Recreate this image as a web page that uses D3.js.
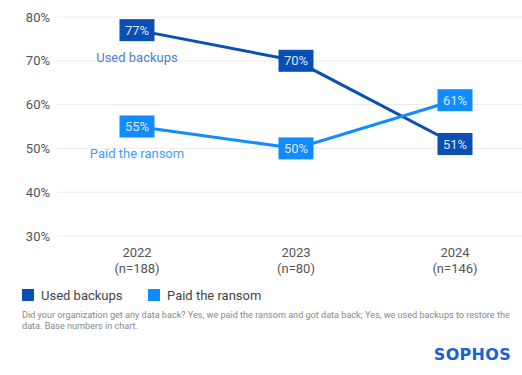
<!DOCTYPE html>
<html>
<head>
<meta charset="utf-8">
<script src="https://cdn.jsdelivr.net/npm/d3@7"></script>
<style>
  body { margin: 0; background: #fff; }
  svg { display: block; font-family: Roboto, "Noto Sans", sans-serif; }
</style>
</head>
<body>
<script>
var years = ['2022', '2023', '2024'];
var bases = ['(n=188)', '(n=80)', '(n=146)'];
var usedBackups = [77, 70, 51];
var paidRansom = [55, 50, 61];
var yTicks = [30, 40, 50, 60, 70, 80];

var width = 522, height = 375;
var darkBlue = '#0a4fb4';
var lightBlue = '#118cff';

var svg = d3.select('body').append('svg')
	.attr('width', width)
	.attr('height', height);

var x = d3.scalePoint()
	.domain(years)
	.range([137, 455]);

var y = d3.scaleLinear()
	.domain([30, 80])
	.range([236, 17]);

// gridlines + y labels
var grid = svg.append('g');
grid.selectAll('line')
	.data(yTicks)
	.enter()
	.append('line')
	.attr('x1', 57)
	.attr('x2', width)
	.attr('y1', function(d) { return y(d); })
	.attr('y2', function(d) { return y(d); })
	.attr('stroke', '#ececec')
	.attr('stroke-width', 1);

grid.selectAll('text')
	.data(yTicks)
	.enter()
	.append('text')
	.attr('x', 50)
	.attr('y', function(d) { return y(d); })
	.attr('dy', '0.35em')
	.attr('text-anchor', 'end')
	.attr('font-size', 13)
	.attr('fill', '#555')
	.text(function(d) { return d + '%'; });

// x labels
var xl = svg.append('g').selectAll('g')
	.data(years)
	.enter()
	.append('g');
xl.append('text')
	.attr('x', function(d) { return x(d); })
	.attr('y', 257)
	.attr('text-anchor', 'middle')
	.attr('font-size', 13)
	.attr('fill', '#555')
	.text(function(d) { return d; });
xl.append('text')
	.attr('x', function(d) { return x(d); })
	.attr('y', 273)
	.attr('text-anchor', 'middle')
	.attr('font-size', 13)
	.attr('fill', '#555')
	.text(function(d, i) { return bases[i]; });

var line = d3.line()
	.x(function(d, i) { return x(years[i]); })
	.y(function(d) { return y(d); });

var series = [
	{ name: 'Used backups', values: usedBackups, color: darkBlue, labelColor: '#4c7fd0' },
	{ name: 'Paid the ransom', values: paidRansom, color: lightBlue, labelColor: '#3d9dfb' }
];

series.forEach(function(s) {
	svg.append('path')
		.datum(s.values)
		.attr('d', line)
		.attr('fill', 'none')
		.attr('stroke', s.color)
		.attr('stroke-width', 3);
});

series.forEach(function(s) {
	var g = svg.append('g').selectAll('g')
		.data(s.values)
		.enter()
		.append('g')
		.attr('transform', function(d, i) { return 'translate(' + x(years[i]) + ',' + y(d) + ')'; });
	g.append('rect')
		.attr('x', -17.5)
		.attr('y', -11)
		.attr('width', 35)
		.attr('height', 22)
		.attr('fill', s.color);
	g.append('text')
		.attr('text-anchor', 'middle')
		.attr('dy', '0.36em')
		.attr('font-size', 13)
		.attr('fill', '#dde6f5')
		.text(function(d) { return d + '%'; });
});

// inline series labels
svg.append('text')
	.attr('x', 137)
	.attr('y', y(usedBackups[0]) + 32)
	.attr('text-anchor', 'middle')
	.attr('font-size', 13)
	.attr('fill', series[0].labelColor)
	.text(series[0].name);
svg.append('text')
	.attr('x', 137)
	.attr('y', y(paidRansom[0]) + 31)
	.attr('text-anchor', 'middle')
	.attr('font-size', 13)
	.attr('fill', series[1].labelColor)
	.text(series[1].name);

// legend
var legendX = [22, 148];
var lg = svg.append('g').selectAll('g')
	.data(series)
	.enter()
	.append('g')
	.attr('transform', function(d, i) { return 'translate(' + legendX[i] + ',289)'; });
lg.append('rect')
	.attr('width', 12)
	.attr('height', 12)
	.attr('fill', function(d) { return d.color; });
lg.append('text')
	.attr('x', 19)
	.attr('y', 11)
	.attr('font-size', 13)
	.attr('fill', '#444')
	.text(function(d) { return d.name; });

// footnote
var foot = svg.append('text')
	.attr('x', 22)
	.attr('y', 318)
	.attr('font-size', 9.1)
	.attr('fill', '#888');
foot.append('tspan')
	.attr('x', 22)
	.text('Did your organization get any data back? Yes, we paid the ransom and got data back; Yes, we used backups to restore the');
foot.append('tspan')
	.attr('x', 22)
	.attr('dy', 11)
	.text('data. Base numbers in chart.');

// logo
svg.append('text')
	.attr('x', 511)
	.attr('y', 360)
	.attr('text-anchor', 'end')
	.attr('font-size', 16)
	.attr('font-weight', 900)
	.attr('font-family', '"DejaVu Sans", sans-serif')
	.attr('letter-spacing', 0.3)
	.attr('fill', '#1a5fd8')
	.text('SOPHOS');
</script>
</body>
</html>
